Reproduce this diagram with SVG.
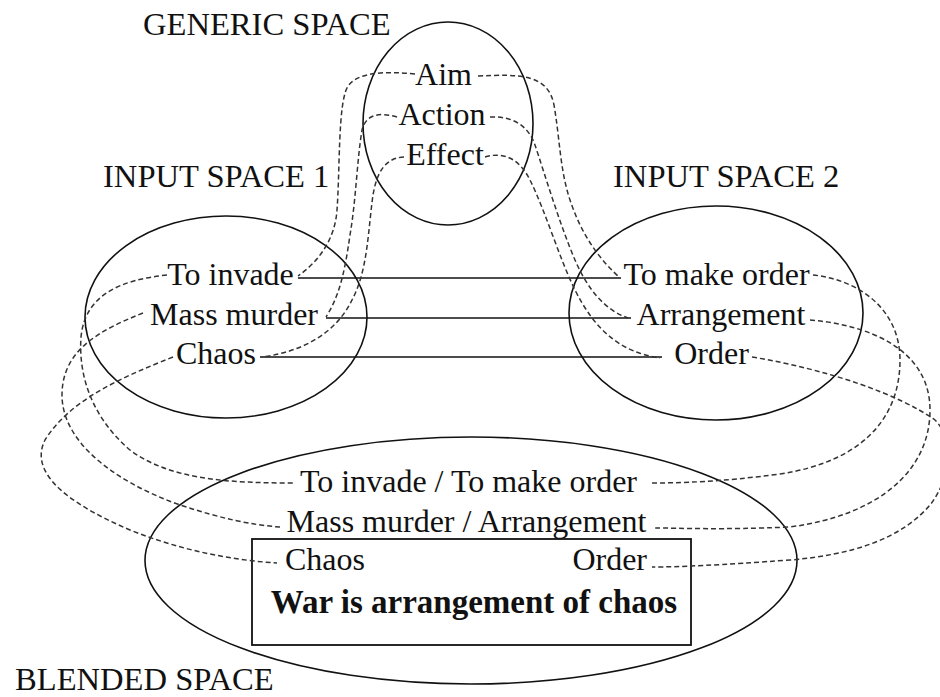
<svg xmlns="http://www.w3.org/2000/svg" width="940" height="697" viewBox="0 0 940 697" font-family="'Liberation Serif', Tinos, 'DejaVu Serif', 'Times New Roman', serif">
  <style>
    .space { fill: none; stroke: #111; stroke-width: 1.6; }
    .box { fill: none; stroke: #111; stroke-width: 1.8; }
    .link { fill: none; stroke: #111; stroke-width: 1.6; }
    .map { fill: none; stroke: #333; stroke-width: 1.5; stroke-dasharray: 5 3; }
    text { font-family: 'Liberation Serif', Tinos, 'DejaVu Serif', 'Times New Roman', serif; font-size: 32px; fill: #111; }
    .title { font-size: 32.6px; }
    .mid { text-anchor: middle; }
    .bold { font-weight: bold; font-size: 33px; }
  </style>
  <rect width="940" height="697" fill="#fff"/>

  <!-- Generic space -->
  <g id="generic-space">
    <ellipse class="space" cx="448" cy="123.5" rx="85" ry="101.5"/>
    <text class="title" x="143" y="35">GENERIC SPACE</text>
    <text class="mid" x="443.5" y="85">Aim</text>
    <text class="mid" x="442" y="125">Action</text>
    <text class="mid" x="445" y="165">Effect</text>
  </g>

  <!-- Input space 1 -->
  <g id="input-space-1">
    <ellipse class="space" cx="226" cy="317" rx="141" ry="101"/>
    <text class="title" x="103" y="187">INPUT SPACE 1</text>
    <text class="mid" x="230.5" y="285">To invade</text>
    <text class="mid" x="234" y="325">Mass murder</text>
    <text class="mid" x="216" y="364">Chaos</text>
  </g>

  <!-- Input space 2 -->
  <g id="input-space-2">
    <ellipse class="space" cx="716" cy="313" rx="147" ry="107"/>
    <text class="title" x="613" y="187">INPUT SPACE 2</text>
    <text class="mid" x="716.5" y="285">To make order</text>
    <text class="mid" x="721" y="325">Arrangement</text>
    <text class="mid" x="711.5" y="364">Order</text>
  </g>

  <!-- Blended space -->
  <g id="blended-space">
    <ellipse class="space" cx="471" cy="560.5" rx="326" ry="123.5"/>
    <rect class="box" x="252" y="539" width="439" height="106"/>
    <text class="mid" x="468.5" y="492">To invade / To make order</text>
    <text class="mid" x="466.5" y="532">Mass murder / Arrangement</text>
    <text x="285" y="570">Chaos</text>
    <text x="647" y="570" text-anchor="end">Order</text>
    <text class="mid bold" x="474" y="613">War is arrangement of chaos</text>
    <text class="title" x="15" y="690">BLENDED SPACE</text>
  </g>

  <g id="connectors">
    <!-- cross-space counterparts -->
    <path class="link" d="M298,278 H621"/>
    <path class="link" d="M326,318 H631"/>
    <path class="link" d="M260,357 H662"/>

    <!-- generic space to input space 1 -->
    <path class="map" d="M415,74 C385,71 355,72 347,88 C338,106 340,170 337,210 C335,240 318,262 298,276"/>
    <path class="map" d="M397,117 C380,112 366,114 362,130 C357,160 356,200 350,235 C345,270 340,295 326,317"/>
    <path class="map" d="M404,157 C385,158 377,172 373,195 C368,230 368,270 352,300 C335,335 300,352 262,357"/>

    <!-- generic space to input space 2 -->
    <path class="map" d="M478,76 C520,74 548,74 554,105 C560,140 560,170 570,200 C580,230 595,255 619,277"/>
    <path class="map" d="M490,117 C512,116 528,125 535,145 C545,175 560,225 575,260 C588,290 605,310 628,318"/>
    <path class="map" d="M485,157 C505,151 520,160 530,180 C545,210 560,260 575,290 C595,330 620,352 660,358"/>

    <!-- input space 1 to blended space -->
    <path class="map" d="M167,275 C120,280 85,295 81,337 C78,380 95,420 130,450 C170,480 230,483 293,483"/>
    <path class="map" d="M143,313 C100,330 62,350 62,395 C62,440 110,480 180,505 C220,518 250,525 280,527"/>
    <path class="map" d="M173,357 C120,378 70,400 45,440 C30,470 60,500 130,530 C180,550 230,560 277,563"/>

    <!-- input space 2 to blended space -->
    <path class="map" d="M813,275 C860,280 900,310 900,360 C900,420 860,462 780,474 C720,482 680,483 650,483"/>
    <path class="map" d="M810,320 C870,325 930,350 930,410 C930,470 880,515 790,527 C720,530 680,528 655,528"/>
    <path class="map" d="M752,357 C830,370 900,395 935,420 C955,440 950,480 930,505 C900,540 850,555 790,560 C720,565 680,567 652,567"/>
  </g>
</svg>
